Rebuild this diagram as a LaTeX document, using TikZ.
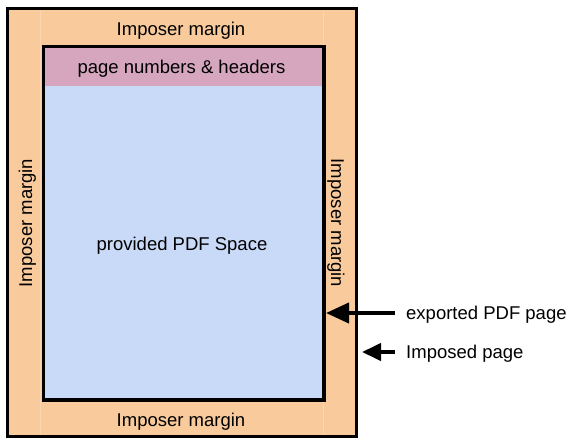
\documentclass[tikz,border=0pt]{standalone}
\usepackage{fontspec}
\setmainfont{Liberation Sans}
\usetikzlibrary{arrows.meta}
\definecolor{marginor}{HTML}{F9CB9C}
\definecolor{seamor}{HTML}{FBD6B0}
\definecolor{headpink}{HTML}{D5A6BD}
\definecolor{spaceblue}{HTML}{C9DAF8}
\tikzset{
  lbl/.style={font=\fontsize{18.5}{21}\selectfont, inner sep=0pt, anchor=base},
  bigarrow/.style={line width=4pt, -{Triangle[length=23pt,width=20pt]}},
  smallarrow/.style={line width=4pt, -{Triangle[length=19pt,width=17pt]}},
}
\begin{document}
\begin{tikzpicture}[x=1pt,y=-1pt]
\useasboundingbox (0,0) rectangle (574,442);
% imposed page
\fill[marginor] (7,8) rectangle (356,436);
\draw[seamor, line width=0.8pt] (40.5,9.5) -- (40.5,434.5);
\draw[seamor, line width=0.8pt] (323,9.5) -- (323,434.5);
\draw[line width=3pt] (7,8) rectangle (356,436);
% exported pdf page
\fill[headpink] (43.5,46.5) rectangle (324,86);
\fill[spaceblue] (43.5,86) rectangle (324,400);
\draw[line width=3.5pt] (43.5,46.5) rectangle (324,400);
\coordinate (pdfE1) at (326,313);
\coordinate (impE) at (362,352);
% labels
\node[lbl] (mtop) at (181,35) {Imposer margin};
\node[lbl] (mbot) at (181,426) {Imposer margin};
\node[lbl, rotate=90] (mleft) at (32,223) {Imposer margin};
\node[lbl, rotate=-90] (mright) at (331,223) {Imposer margin};
\node[lbl] (head) at (181.5,73) {page numbers \& headers};
\node[lbl] (space) at (182,250) {provided PDF Space};
\node[lbl, anchor=base west] (exp) at (406,319.5) {exported PDF page};
\node[lbl, anchor=base west] (imp) at (406,358.5) {Imposed page};
\coordinate (t1) at (395,313);
\coordinate (t2) at (395,352);
\draw[bigarrow] (t1) -- (pdfE1);
\draw[smallarrow] (t2) -- (impE);
\end{tikzpicture}
\end{document}
